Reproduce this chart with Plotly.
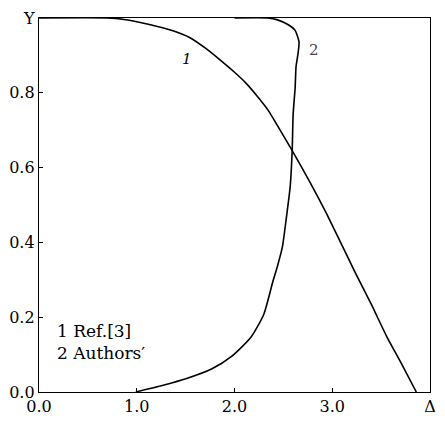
import plotly.graph_objects as go

# Curve 1: Ref.[3]
x1 = [0.0, 0.70, 0.87, 1.14, 1.37, 1.54, 1.71, 1.87, 2.00, 2.11, 2.22, 2.34, 2.44, 2.58, 2.77, 2.93, 3.10, 3.23, 3.40, 3.56, 3.70, 3.86]
y1 = [1.0, 1.0, 0.996, 0.982, 0.966, 0.948, 0.918, 0.884, 0.855, 0.828, 0.795, 0.755, 0.712, 0.650, 0.562, 0.483, 0.392, 0.322, 0.234, 0.147, 0.080, 0.0]

# Curve 2: Authors'
x2 = [0.99, 1.27, 1.51, 1.77, 1.97, 2.17, 2.30, 2.39, 2.44, 2.49, 2.53, 2.57, 2.59, 2.60, 2.62, 2.63, 2.65, 2.66, 2.62, 2.55, 2.44, 2.34, 2.0]
y2 = [0.0, 0.018, 0.036, 0.062, 0.095, 0.147, 0.208, 0.293, 0.337, 0.388, 0.465, 0.550, 0.645, 0.743, 0.812, 0.871, 0.905, 0.936, 0.967, 0.982, 0.995, 1.0, 1.0]

xtick_vals = [0.0, 1.0, 2.0, 3.0, 4.0]
xtick_text = ["0.0", "1.0", "2.0", "3.0", "Δ"]
ytick_vals = [0.0, 0.2, 0.4, 0.6, 0.8, 1.0]
ytick_text = ["0.0", "0.2", "0.4", "0.6", "0.8", "Y"]

serif = "DejaVu Serif"

fig = go.Figure()
fig.add_trace(go.Scatter(x=x1, y=y1, mode="lines", line=dict(color="black", width=1.6, shape="spline", smoothing=0.6), showlegend=False))
fig.add_trace(go.Scatter(x=x2, y=y2, mode="lines", line=dict(color="black", width=1.6, shape="spline", smoothing=0.6), showlegend=False))

fig.add_annotation(x=1.51, y=0.89, text="<i>1</i>", showarrow=False, font=dict(family=serif, size=15, color="black"))
fig.add_annotation(x=2.81, y=0.915, text="2", showarrow=False, font=dict(family=serif, size=15, color="#444"))
fig.add_annotation(x=0.16, y=0.133, text="1 Ref.[3]<br>2 Authors′", showarrow=False, align="left",
                   xanchor="left", yanchor="middle", font=dict(family=serif, size=17, color="black"))

axis_common = dict(showgrid=False, zeroline=False, showline=True, linecolor="black", linewidth=1.3,
                   mirror=True, ticks="inside", ticklen=4, tickcolor="black",
                   tickfont=dict(family=serif, size=16, color="black"))

fig.update_layout(
    width=445, height=425,
    margin=dict(l=36, r=9, t=15, b=21),
    plot_bgcolor="white", paper_bgcolor="white",
    xaxis=dict(range=[0, 4], tickvals=xtick_vals, ticktext=xtick_text, **axis_common),
    yaxis=dict(range=[0, 1], tickvals=ytick_vals, ticktext=ytick_text, **axis_common),
)

fig.write_html("out.html")
